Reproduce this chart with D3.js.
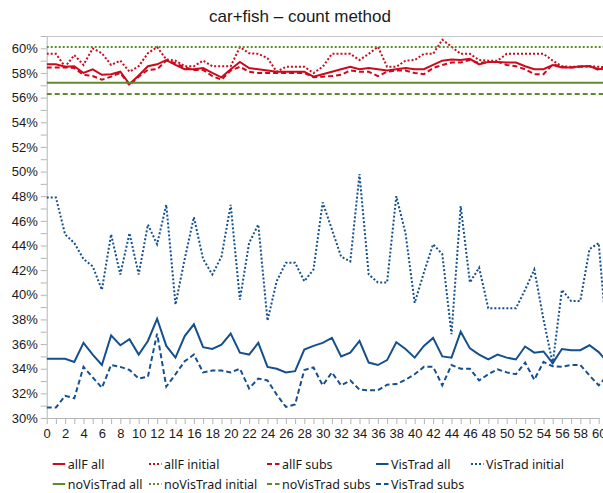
<!DOCTYPE html>
<html>
<head>
<meta charset="utf-8">
<script src="https://d3js.org/d3.v7.min.js"></script>
<style>
  body { margin: 0; background: #fff; }
  svg { display: block; }
  .tick text { font-family: "Liberation Sans", Arial, sans-serif; font-size: 13px; fill: #1a1a1a; }
  .axis path, .axis line { stroke: #b5b5b5; }
</style>
</head>
<body>
<div id="chart"></div>
<script>

// x positions 0..61
var xs = d3.range(0, 62);

var allFAll = [58.7, 58.7, 58.5, 58.55, 58.0, 58.3, 57.85, 57.9, 58.1, 57.1, 57.8, 58.55, 58.7, 59.05, 58.65, 58.3, 58.3, 58.4, 58.0, 57.65,
  58.3, 58.9, 58.4, 58.3, 58.2, 58.1, 58.1, 58.1, 58.1, 57.7, 57.9, 58.1, 58.3, 58.5, 58.3, 58.4, 58.3, 58.2, 58.3, 58.4,
  58.3, 58.3, 58.65, 59.0, 59.1, 59.05, 59.15, 58.7, 58.9, 58.9, 58.85, 58.85, 58.55, 58.3, 58.3, 58.65, 58.45, 58.45, 58.55, 58.55,
  58.3, 58.45];
var allFInitial = [59.55, 59.55, 58.5, 59.45, 58.65, 60.0, 59.6, 58.65, 59.0, 58.1, 58.55, 59.6, 60.1, 59.1, 59.0, 58.55, 58.55, 59.0, 58.55, 58.55,
  58.55, 60.1, 59.6, 59.55, 59.2, 58.1, 58.5, 58.5, 58.5, 58.0, 58.5, 59.55, 59.55, 59.55, 59.05, 59.55, 60.13, 58.5, 58.5, 59.0,
  59.05, 59.55, 59.55, 60.7, 60.13, 59.55, 59.55, 59.05, 59.0, 59.0, 59.55, 59.55, 59.55, 59.55, 59.55, 59.0, 58.55, 58.5, 58.5, 58.55,
  58.5, 58.45];
var allFSubs = [58.45, 58.45, 58.45, 58.4, 57.85, 57.75, 57.45, 57.7, 58.0, 57.0, 57.7, 58.25, 58.3, 59.0, 58.8, 58.45, 58.25, 58.25, 57.75, 57.45,
  58.2, 58.5, 58.1, 58.0, 58.0, 58.0, 58.0, 58.0, 58.0, 57.65, 57.7, 57.75, 57.85, 58.2, 58.1, 58.1, 57.75, 58.1, 58.2, 58.2,
  58.0, 57.9, 58.4, 58.65, 58.85, 58.85, 59.05, 58.8, 58.9, 58.9, 58.65, 58.55, 58.3, 57.9, 57.9, 58.7, 58.5, 58.45, 58.5, 58.55,
  58.25, 58.45];
var visTradAll = [34.8, 34.8, 34.8, 34.55, 36.1, 35.15, 34.3, 36.7, 35.9, 36.4, 35.15, 36.25, 38.05, 35.85, 34.9, 36.65, 37.6, 35.75, 35.6, 35.95,
  36.85, 35.3, 35.15, 36.1, 34.15, 34.0, 33.7, 33.8, 35.55, 35.85, 36.1, 36.5, 35.0, 35.3, 36.25, 34.5, 34.3, 34.7, 36.15, 35.6,
  34.9, 35.85, 36.5, 35.0, 34.9, 37.0, 35.65, 35.15, 34.75, 35.15, 34.9, 34.75, 35.8, 35.3, 35.4, 34.45, 35.6, 35.5, 35.5, 35.9,
  35.35, 34.5];
var visTradInitial = [47.9, 47.9, 44.9, 44.2, 42.9, 42.3, 40.4, 44.9, 41.65, 45.0, 41.65, 45.7, 44.1, 47.3, 39.2, 42.9, 46.3, 42.9, 41.65, 43.1,
  47.3, 39.6, 44.2, 45.7, 37.9, 41.1, 42.6, 42.6, 41.1, 42.05, 47.5, 45.3, 43.1, 42.7, 49.8, 41.65, 41.0, 41.0, 48.0, 45.0,
  39.35, 41.8, 44.1, 43.3, 36.8, 47.2, 41.0, 42.2, 38.9, 38.9, 38.9, 38.9, 40.4, 42.05, 38.0, 34.4, 40.4, 39.5, 39.5, 43.7,
  44.2, 35.5];
var visTradSubs = [30.85, 30.85, 31.8, 31.6, 34.15, 33.3, 32.45, 34.3, 34.15, 33.9, 33.2, 33.35, 36.85, 32.55, 33.55, 34.6, 35.15, 33.7, 33.85, 33.85,
  33.7, 34.0, 32.4, 33.2, 33.05, 31.9, 30.9, 31.1, 33.9, 34.1, 32.65, 33.7, 32.65, 33.05, 32.3, 32.25, 32.25, 32.7, 32.75, 33.1,
  33.55, 34.15, 34.15, 32.65, 34.3, 34.0, 34.0, 33.05, 33.55, 33.95, 33.7, 33.55, 34.5, 33.1, 34.55, 34.2, 34.15, 34.3, 34.3, 33.45,
  32.65, 33.5];

// noVisTrad series are flat
var noVisTradAll = 57.2;
var noVisTradInitial = 60.1;
var noVisTradSubs = 56.3;

var red = "#cc0a1c", blue = "#15508e", green = "#5e8c2c";

var series = [
  {label: "allF all", values: allFAll, color: red, dash: null},
  {label: "allF initial", values: allFInitial, color: red, dash: "2,2"},
  {label: "allF subs", values: allFSubs, color: red, dash: "5,3"},
  {label: "VisTrad all", values: visTradAll, color: blue, dash: null},
  {label: "VisTrad initial", values: visTradInitial, color: blue, dash: "2,2"},
  {label: "noVisTrad all", values: [noVisTradAll, noVisTradAll], flat: true, color: green, dash: null},
  {label: "noVisTrad initial", values: [noVisTradInitial, noVisTradInitial], flat: true, color: green, dash: "2,2"},
  {label: "noVisTrad subs", values: [noVisTradSubs, noVisTradSubs], flat: true, color: green, dash: "5,3"},
  {label: "VisTrad subs", values: visTradSubs, color: blue, dash: "5,3"}
];

var W = 603, H = 493;
var plotLeft = 46.7, plotTop = 36, plotBottom = 418;

var svg = d3.select("#chart").append("svg")
  .attr("width", W)
  .attr("height", H);

var x = d3.scaleLinear().domain([0, 60]).range([plotLeft, plotLeft + 552]);
var y = d3.scaleLinear().domain([30, 61]).range([plotBottom, plotTop]);

svg.append("text")
  .attr("x", 300)
  .attr("y", 22)
  .attr("text-anchor", "middle")
  .attr("font-family", "Liberation Sans, Arial, sans-serif")
  .attr("font-size", "17px")
  .attr("fill", "#1a1a1a")
  .text("car+fish \u2013 count method");

// top border of plot area
svg.append("line")
  .attr("x1", plotLeft).attr("x2", W)
  .attr("y1", plotTop + 0.5).attr("y2", plotTop + 0.5)
  .attr("stroke", "#c8c8c8");

svg.append("g")
  .attr("class", "axis")
  .attr("transform", "translate(" + plotLeft + ",0)")
  .call(d3.axisLeft(y)
    .tickValues(d3.range(30, 62))
    .tickSize(6)
    .tickSizeOuter(0)
    .tickPadding(3)
    .tickFormat(function(d) { return d % 2 == 0 ? d + "%" : ""; }));

svg.append("g")
  .attr("class", "axis")
  .attr("transform", "translate(0," + plotBottom + ")")
  .call(d3.axisBottom(x)
    .tickValues(d3.range(0, 62))
    .tickSize(6)
    .tickSizeOuter(0)
    .tickPadding(5)
    .tickFormat(function(d) { return d % 2 == 0 ? d : ""; }));

svg.append("clipPath").attr("id", "plot")
  .append("rect")
  .attr("x", plotLeft).attr("y", plotTop - 4)
  .attr("width", W - plotLeft).attr("height", plotBottom - plotTop + 4);

var line = d3.line()
  .x(function(d) { return x(d[0]); })
  .y(function(d) { return y(d[1]); });

svg.append("g").attr("clip-path", "url(#plot)")
  .selectAll("path")
  .data(series)
  .enter().append("path")
  .attr("fill", "none")
  .attr("stroke", function(d) { return d.color; })
  .attr("stroke-width", 2)
  .attr("stroke-dasharray", function(d) { return d.dash; })
  .attr("d", function(d) {
    if (d.flat) return line([[0, d.values[0]], [62, d.values[1]]]);
    return line(d.values.map(function(v, i) { return [xs[i], v]; }));
  });

// legend
var legendX = [52.7, 149, 267, 376, 471];
var legend = svg.selectAll(".leg")
  .data(series)
  .enter().append("g")
  .attr("class", "leg")
  .attr("transform", function(d, i) {
    return "translate(" + legendX[i % 5] + "," + (i < 5 ? 464 : 484) + ")";
  });

legend.append("line")
  .attr("x1", 0).attr("x2", 12.5)
  .attr("stroke", function(d) { return d.color; })
  .attr("stroke-width", 2)
  .attr("stroke-dasharray", function(d) { return d.dash; });

legend.append("text")
  .attr("x", 15)
  .attr("y", 4.5)
  .attr("font-family", "Noto Sans, sans-serif")
  .attr("font-size", "12.5px")
  .attr("fill", "#1a1a1a")
  .text(function(d) { return d.label; });

</script>
</body>
</html>
